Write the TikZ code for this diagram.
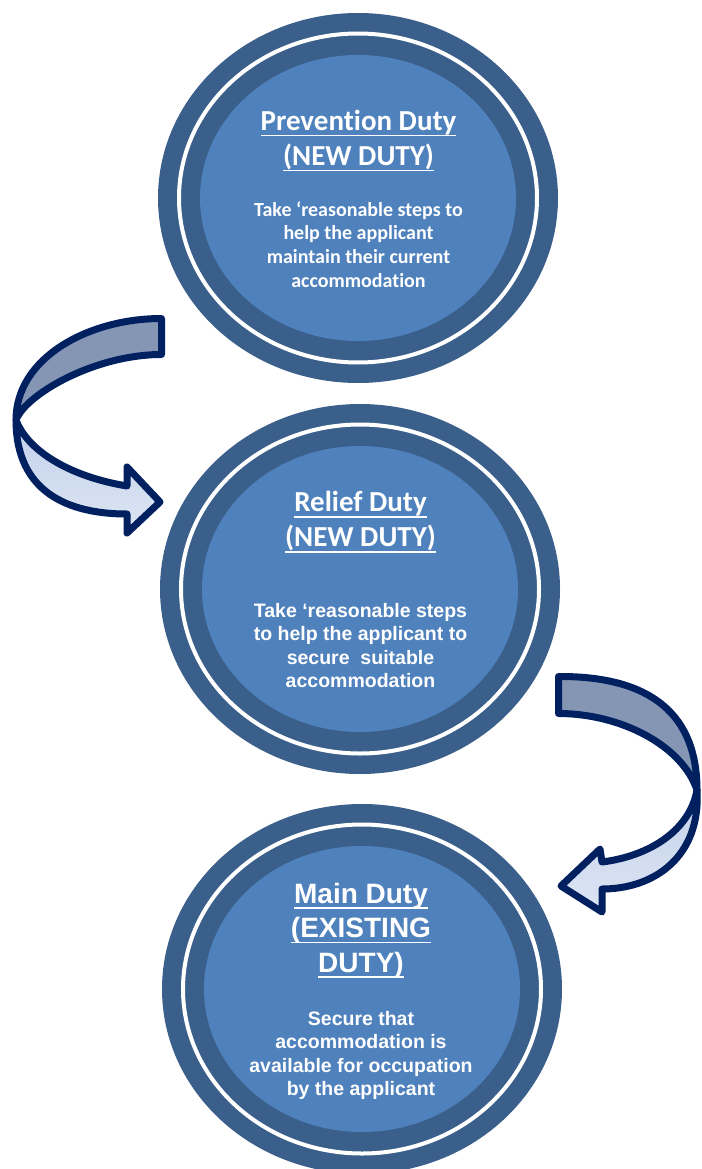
\documentclass[tikz,border=0pt]{standalone}
\usepackage{fontspec}
\usetikzlibrary{shapes.geometric}

\newfontfamily\calibrifont{Carlito}[Ligatures=NoCommon]
\newfontfamily\arialfont{Liberation Sans}

\definecolor{ringblue}{HTML}{3A5F8B}
\definecolor{coreblue}{HTML}{4F81BD}
\definecolor{arrowline}{HTML}{002060}
\definecolor{bandback}{HTML}{8596B5}
\definecolor{bandtop}{HTML}{C3D1EB}
\definecolor{bandbot}{HTML}{DCE5F3}

% underlined title line
\newsavebox\ulbox
\newcommand\ulined[1]{\sbox\ulbox{#1}\rlap{\rule[-5.8pt]{\wd\ulbox}{1.8pt}}\usebox\ulbox}
% centred lines; the box's baseline is the first line's baseline
\newcommand\stack[1]{\vtop{\halign{\hfil##\hfil\cr#1\crcr}}}

\tikzset{
  disc/.style={ellipse, inner sep=0pt, fill=ringblue,
    minimum width=400pt, minimum height=370pt},
  whitering/.style={ellipse, inner sep=0pt, draw=white, line width=4pt,
    minimum width=358pt, minimum height=329pt},
  core/.style={ellipse, inner sep=0pt, fill=coreblue,
    minimum width=316pt, minimum height=286pt},
  txt/.style={anchor=base, inner sep=0pt, text=white},
  caltitle/.style={txt, font={\calibrifont\bfseries\fontsize{29}{35}\selectfont\lineskiplimit=-100pt}},
  calbody/.style={txt, font={\calibrifont\bfseries\fontsize{20}{23.7}\selectfont\lineskiplimit=-100pt}},
  artitle/.style={txt, font={\arialfont\bfseries\fontsize{28}{34.5}\selectfont\lineskiplimit=-100pt}},
  arbody/.style={txt, font={\arialfont\bfseries\fontsize{19.5}{23.5}\selectfont\lineskiplimit=-100pt}},
  arrowedge/.style={draw=arrowline, line width=7pt, line join=round},
  backband/.style={arrowedge, fill=bandback},
  frontband/.style={arrowedge, top color=bandtop, bottom color=bandbot},
}

\begin{document}
\begin{tikzpicture}[x=1pt, y=-1pt]
\useasboundingbox (0,0) rectangle (701,1169);

% --- the three duties -------------------------------------------------
\node[disc] (prev) at (358,198) {};
\node[whitering] (prevring) at (prev.center) {};
\node[core] (prevcore) at (prev.center) {};

\node[disc] (relief) at (360,589) {};
\node[whitering] (reliefring) at (relief.center) {};
\node[core] (reliefcore) at (relief.center) {};

\node[disc] (main) at (362,989) {};
\node[whitering] (mainring) at (main.center) {};
\node[core] (maincore) at (main.center) {};

% --- texts ---------------------------------------------------------------
\node[caltitle] (prevtitle) at (358.5,130.7)
  {\stack{\ulined{Prevention Duty}\cr\ulined{(NEW DUTY)}}};
\node[calbody] (prevbody) at (358.5,216)
  {\stack{Take ‘reasonable steps to\cr help the applicant\cr maintain their current\cr accommodation}};

\node[caltitle] (relieftitle) at (360.5,511.7)
  {\stack{\ulined{Relief Duty}\cr\ulined{(NEW DUTY)}}};
\node[arbody] (reliefbody) at (360.5,617)
  {\stack{Take ‘reasonable steps\cr to help the applicant to\cr secure\ \ suitable\cr accommodation}};

\node[artitle] (maintitle) at (361,903)
  {\stack{\ulined{Main Duty}\cr\ulined{(EXISTING}\cr\ulined{DUTY)}}};
\node[arbody] (mainbody) at (361,1025)
  {\stack{Secure that\cr accommodation is\cr available for occupation\cr by the applicant}};

% --- curved arrow: prevention -> relief --------------------------------------
\draw[backband] (161.5,318.5) .. controls (88,318.5) and (16,358) .. (16,420)
  .. controls (26,394) and (95,354.5) .. (161.5,354.5) -- cycle;
\draw[frontband] (16,420) .. controls (16,492) and (68,514) .. (127,514)
  -- (127,533) -- (160,502) -- (127,467) -- (127,486)
  .. controls (72,477) and (28,452) .. (16,420) -- cycle;

% --- curved arrow: relief -> main ---------------------------------------------
\draw[backband] (558.5,676.5) .. controls (640,676) and (697,706) .. (697,790)
  .. controls (682,745) and (620,713.5) .. (558.5,713.5) -- cycle;
\draw[frontband] (697,790) .. controls (701,856) and (655,889) .. (602,889)
  -- (602,912) -- (561,886) -- (600,849) -- (602,862)
  .. controls (650,856) and (690,830) .. (697,790) -- cycle;
\end{tikzpicture}
\end{document}
